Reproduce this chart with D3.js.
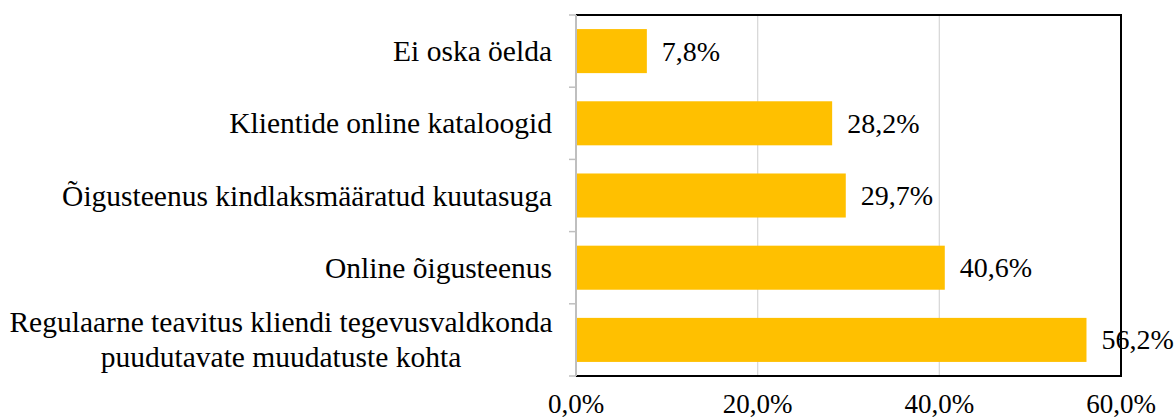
<!DOCTYPE html>
<html><head><meta charset="utf-8">
<script src="https://cdn.jsdelivr.net/npm/d3@7"></script>
<style>
body{margin:0;background:#fff;}
svg{display:block;}
text{font-family:"Liberation Serif","Times New Roman",serif;fill:#000;}
</style></head>
<body>
<svg id="c" width="1176" height="418"></svg>
<script>
const categories = [
  "Ei oska öelda",
  "Klientide online kataloogid",
  "Õigusteenus kindlaksmääratud kuutasuga",
  "Online õigusteenus",
  "Regulaarne teavitus kliendi tegevusvaldkonda|puudutavate muudatuste kohta"
];
const values = [7.8, 28.2, 29.7, 40.6, 56.2];
const tickValues = [0, 20, 40, 60];
const tickLabels = ["0,0%", "20,0%", "40,0%", "60,0%"];

const svg = d3.select("#c");
const L = 576, R = 1121, T = 15, B = 376;
const x = d3.scaleLinear().domain([0, 60]).range([L, R]);
const y = d3.scaleBand().domain(categories).range([T, B]).paddingInner(0.39).paddingOuter(0.195);
const yb = d3.scaleBand().domain(categories).range([T, B]);
const catFs = 29.5, valFs = 28, tickFs = 27;

// gridlines
svg.append("g").selectAll("line").data(tickValues.filter(v => v > 0 && v < 60)).join("line")
  .attr("x1", d => x(d)).attr("x2", d => x(d)).attr("y1", T).attr("y2", B)
  .attr("stroke", "#d9d9d9").attr("stroke-width", 1.3);

// bars
svg.append("g").selectAll("rect").data(values).join("rect")
  .attr("x", x(0)).attr("y", (d, i) => y(categories[i]))
  .attr("width", d => x(d) - x(0)).attr("height", y.bandwidth())
  .attr("fill", "#FFC000");

// frame (top, right, bottom black)
svg.append("path").attr("d", `M${L},${T}H${R}V${B}H${L}`)
  .attr("fill", "none").attr("stroke", "#000").attr("stroke-width", 2);

// left axis gray with ticks
const boundaries = d3.range(categories.length + 1).map(i => T + i * yb.step());
svg.append("line").attr("x1", L).attr("x2", L).attr("y1", T).attr("y2", B)
  .attr("stroke", "#bfbfbf").attr("stroke-width", 2);
svg.append("g").selectAll("line").data(boundaries).join("line")
  .attr("x1", L - 7).attr("x2", L).attr("y1", d => d).attr("y2", d => d)
  .attr("stroke", "#bfbfbf").attr("stroke-width", 1.5);

// category labels
svg.append("g").selectAll("text").data(categories).join("text")
  .attr("font-size", catFs)
  .attr("text-anchor", d => d.includes("|") ? "middle" : "end")
  .each(function(d) {
    const lines = d.split("|");
    const cy = yb(d) + yb.bandwidth() / 2;
    const lh = 35;
    const t = d3.select(this);
    lines.forEach((ln, k) => {
      t.append("tspan").attr("x", lines.length > 1 ? 281 : 552)
        .attr("y", cy + (k - (lines.length - 1) / 2) * lh)
        .attr("dy", "0.34em").text(ln);
    });
  });

// value labels
svg.append("g").selectAll("text").data(values).join("text")
  .attr("x", d => x(d) + 15)
  .attr("y", (d, i) => yb(categories[i]) + yb.bandwidth() / 2)
  .attr("dy", "0.34em").attr("font-size", valFs)
  .text(d => d.toFixed(1).replace(".", ",") + "%");

// x tick labels
svg.append("g").selectAll("text").data(tickValues).join("text")
  .attr("x", d => x(d)).attr("y", 413)
  .attr("text-anchor", "middle").attr("font-size", tickFs)
  .text((d, i) => tickLabels[i]);
</script>
</body></html>
